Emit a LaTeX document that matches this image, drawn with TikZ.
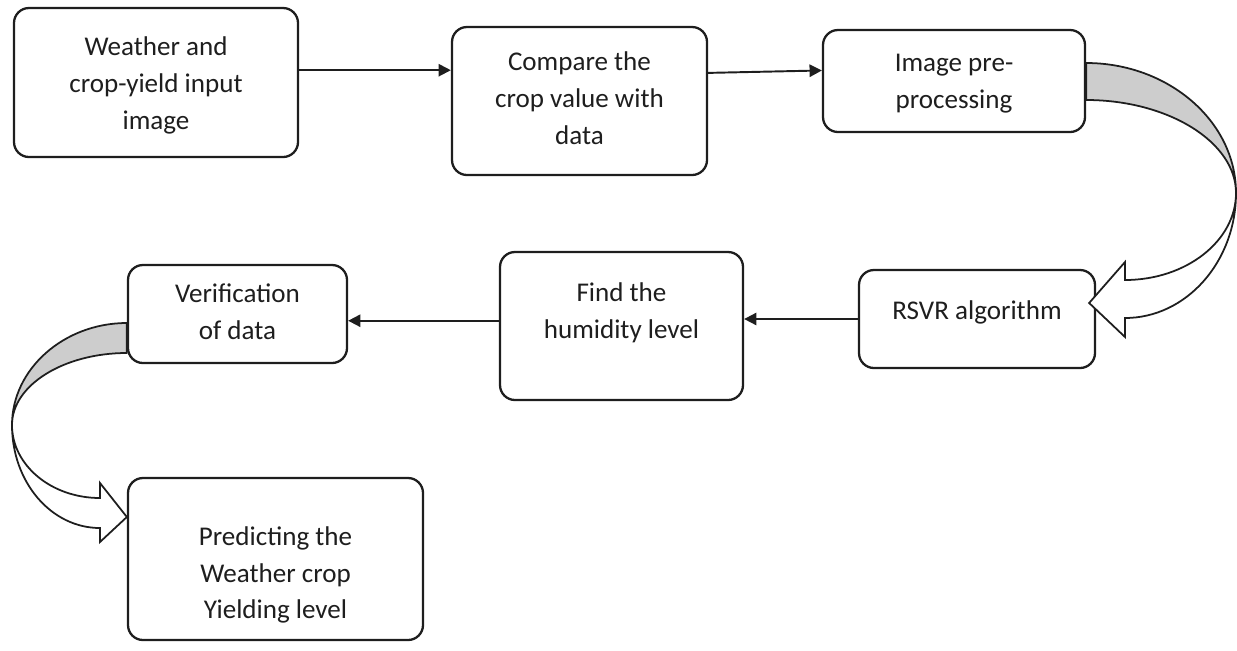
\documentclass[tikz,border=0pt]{standalone}
\usepackage{fontspec}
\setmainfont{Carlito}
\usetikzlibrary{arrows.meta,calc}
\definecolor{bandgrey}{RGB}{205,205,205}
\definecolor{inkgrey}{RGB}{30,30,30}
\tikzset{
  stagebox/.style={draw=inkgrey,line width=1.3pt,rounded corners=0.3cm,inner sep=0pt},
  stagetext/.style={align=center,inner sep=0pt,font=\fontsize{15.4}{21}\selectfont,text=inkgrey},
  flowline/.style={draw=inkgrey,line width=1.1pt,-{Triangle[length=7pt,width=7pt]}},
  bandpart/.style={draw=inkgrey,line width=1pt,fill=bandgrey,line join=round},
  headpart/.style={draw=inkgrey,line width=1pt,fill=white,line join=miter}
}
% box: [text shift]{name}{x}{y}{width}{height}{text}, all in px
\newcommand{\stage}[7][0]{\node[stagebox,minimum width=#5*0.02cm,minimum height=#6*0.02cm] (#2) at (#3,#4) {};
  \node[stagetext] (#2-text) at ($(#2)+(0,#1)$) {#7};}

\begin{document}
\begin{tikzpicture}[x=0.02cm,y=-0.02cm]
\useasboundingbox (0,0) rectangle (1237,650);
% process boxes
\stage[3]{input}{156}{82.5}{284}{149}{Weather and\\crop-yield input\\image}
\stage[-3]{compare}{579.5}{101}{255}{148}{Compare the\\crop value with\\data}
\stage[3]{prep}{954}{81}{262}{102}{Image pre-\\processing}
\stage[-7]{rsvr}{977}{319}{236}{98}{RSVR algorithm}
\stage[-13]{humid}{621.5}{326}{243}{148}{Find the\\humidity level}
\stage[-2]{verif}{237.5}{314}{219}{98}{Verification\\of data}
\stage[16]{predict}{275.5}{559}{295}{162}{Predicting the\\Weather crop\\Yielding level}
% straight links
\draw[flowline] ([yshift=7pt]input.east) -- ([yshift=7pt]input.east -| compare.west);
\draw[flowline] ([yshift=16pt]compare.east) -- ([yshift=6pt]prep.west);
\draw[flowline] (rsvr.west) -- (rsvr.west -| humid.east);
\draw[flowline] ([yshift=3pt]humid.west) -- ([yshift=3pt]humid.west -| verif.east);
% bent block arrow: prep -> rsvr
\coordinate (bendtopA) at ($(prep.east)+(0,-18)$);
\coordinate (bendbotA) at ($(prep.east)+(0,19)$);
\coordinate (bendmidA) at (1236,193);
\coordinate (tipA) at ($(rsvr.east)+(-7,-16)$);
\path[bandpart] (bendtopA) .. controls (1168,63) and (1236,121) .. (bendmidA)
  .. controls (1236,142) and (1168,100) .. (bendbotA) -- cycle;
\path[headpart] (bendmidA) .. controls (1236,262) and (1186,318) .. (1125,318)
  -- (1125,337) -- (tipA) -- (1125,262) -- (1125,280)
  .. controls (1186,280) and (1236,241) .. (bendmidA) -- cycle;
% bent block arrow: verif -> predict
\coordinate (bendtopB) at ($(verif.west)+(0,9)$);
\coordinate (bendbotB) at ($(verif.west)+(0,39)$);
\coordinate (bendmidB) at (12,425);
\coordinate (tipB) at ($(predict.west)+(0,-42)$);
\path[bandpart] (bendtopB) .. controls (64,323) and (12,369) .. (bendmidB)
  .. controls (12,385) and (64,353) .. (bendbotB) -- cycle;
\path[headpart] (bendmidB) .. controls (12,482) and (51,528) .. (100,528)
  -- (100,542) -- (tipB) -- (100,483) -- (100,498)
  .. controls (51,498) and (12,465) .. (bendmidB) -- cycle;
\end{tikzpicture}
\end{document}
